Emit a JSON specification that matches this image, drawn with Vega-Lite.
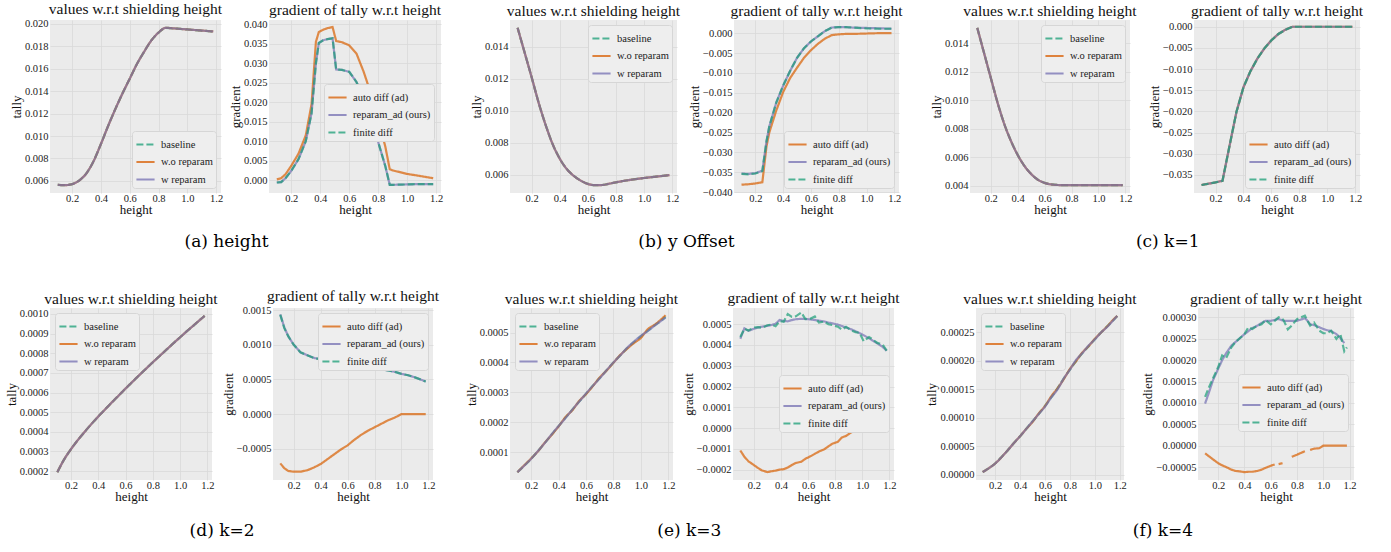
{
"$schema": "https://vega.github.io/schema/vega-lite/v6.json",
"background": "white",
"padding": {"left": 5, "top": 2, "right": 5, "bottom": 5},
"spacing": 38,
"resolve": {"scale": {"color": "independent", "strokeDash": "independent"}, "legend": {"color": "independent", "strokeDash": "independent"}},
"config": {
  "view": {"fill": "#EBEBEB", "stroke": null},
  "axis": {"labelFont": "Liberation Serif", "labelFontSize": 10.5, "labelColor": "#222", "labelOverlap": false, "titleFont": "Liberation Serif", "titleFontSize": 13, "titleFontWeight": "normal", "titleColor": "#111", "gridColor": "#D9D9D9", "gridWidth": 0.8, "domain": false, "ticks": false, "tickSize": 0},
  "axisX": {"labelPadding": 0, "titlePadding": 0},
  "axisY": {"labelPadding": 2, "titlePadding": 1},
  "legend": {"labelFont": "Liberation Serif", "labelFontSize": 10.5, "labelColor": "#222", "symbolType": "stroke", "symbolStrokeWidth": 2, "symbolSize": 330, "symbolOpacity": 0.75, "fillColor": "#EEEEEE", "strokeColor": "#D6D6D6", "cornerRadius": 3, "padding": 3, "rowPadding": 1.5, "offset": 5, "labelOffset": 5},
  "title": {"font": "Liberation Serif", "fontSize": 15.5, "fontWeight": "normal", "color": "#111", "offset": 1},
  "line": {"strokeWidth": 2.2, "opacity": 0.7}
},
"datasets": {
"a1": [
{"x":0.1,"baseline":0.00565,"wo":0.00565,"w":0.00565},
{"x":0.15,"baseline":0.00563,"wo":0.00563,"w":0.00563},
{"x":0.2,"baseline":0.00572,"wo":0.00572,"w":0.00572},
{"x":0.25,"baseline":0.00605,"wo":0.00605,"w":0.00605},
{"x":0.3,"baseline":0.0067,"wo":0.0067,"w":0.0067},
{"x":0.35,"baseline":0.0078,"wo":0.0078,"w":0.0078},
{"x":0.4,"baseline":0.0093,"wo":0.0093,"w":0.0093},
{"x":0.45,"baseline":0.0109,"wo":0.0109,"w":0.0109},
{"x":0.5,"baseline":0.0124,"wo":0.0124,"w":0.0124},
{"x":0.55,"baseline":0.0138,"wo":0.0138,"w":0.0138},
{"x":0.6,"baseline":0.0151,"wo":0.0151,"w":0.0151},
{"x":0.65,"baseline":0.0164,"wo":0.0164,"w":0.0164},
{"x":0.7,"baseline":0.0175,"wo":0.0175,"w":0.0175},
{"x":0.75,"baseline":0.0185,"wo":0.0185,"w":0.0185},
{"x":0.8,"baseline":0.0192,"wo":0.0192,"w":0.0192},
{"x":0.85,"baseline":0.01962,"wo":0.01962,"w":0.01962},
{"x":0.9,"baseline":0.01958,"wo":0.01958,"w":0.01958},
{"x":0.95,"baseline":0.01953,"wo":0.01953,"w":0.01953},
{"x":1.0,"baseline":0.01948,"wo":0.01948,"w":0.01948},
{"x":1.05,"baseline":0.01943,"wo":0.01943,"w":0.01943},
{"x":1.1,"baseline":0.01938,"wo":0.01938,"w":0.01938},
{"x":1.15,"baseline":0.01933,"wo":0.01933,"w":0.01933},
{"x":1.18,"baseline":0.0193,"wo":0.0193,"w":0.0193}
],
"a2": [
{"x":0.1,"ad":0.0002,"ours":-0.0006,"fd":-0.0006},
{"x":0.13,"ad":0.0005,"ours":-0.0005,"fd":-0.0005},
{"x":0.16,"ad":0.0015,"ours":0.0005,"fd":0.0005},
{"x":0.2,"ad":0.0037,"ours":0.0024,"fd":0.0024},
{"x":0.25,"ad":0.0068,"ours":0.0054,"fd":0.0054},
{"x":0.3,"ad":0.0115,"ours":0.01,"fd":0.01},
{"x":0.34,"ad":0.0195,"ours":0.0172,"fd":0.0172},
{"x":0.37,"ad":0.0355,"ours":0.03,"fd":0.03},
{"x":0.39,"ad":0.038,"ours":0.0352,"fd":0.0352},
{"x":0.42,"ad":0.0386,"ours":0.0359,"fd":0.0359},
{"x":0.45,"ad":0.039,"ours":0.0362,"fd":0.0362},
{"x":0.485,"ad":0.0393,"ours":0.0364,"fd":0.0364},
{"x":0.51,"ad":0.0357,"ours":0.0284,"fd":0.0284},
{"x":0.55,"ad":0.0354,"ours":0.0283,"fd":0.0283},
{"x":0.6,"ad":0.0346,"ours":0.0278,"fd":0.0278},
{"x":0.65,"ad":0.0325,"ours":0.0252,"fd":0.0252},
{"x":0.7,"ad":0.0278,"ours":0.0209,"fd":0.0209},
{"x":0.75,"ad":0.0222,"ours":0.0158,"fd":0.0158},
{"x":0.8,"ad":0.0158,"ours":0.0098,"fd":0.0098},
{"x":0.85,"ad":0.0085,"ours":0.0035,"fd":0.0035},
{"x":0.88,"ad":0.0028,"ours":-0.0012,"fd":-0.0012},
{"x":0.9,"ad":0.0025,"ours":-0.0012,"fd":-0.0012},
{"x":1.0,"ad":0.0016,"ours":-0.0011,"fd":-0.0011},
{"x":1.1,"ad":0.001,"ours":-0.001,"fd":-0.001},
{"x":1.18,"ad":0.0005,"ours":-0.001,"fd":-0.001}
],
"b1": [
{"x":0.1,"baseline":0.0152,"wo":0.0152,"w":0.0152},
{"x":0.15,"baseline":0.01365,"wo":0.01365,"w":0.01365},
{"x":0.2,"baseline":0.0121,"wo":0.0121,"w":0.0121},
{"x":0.25,"baseline":0.0105,"wo":0.0105,"w":0.0105},
{"x":0.3,"baseline":0.0091,"wo":0.0091,"w":0.0091},
{"x":0.35,"baseline":0.0079,"wo":0.0079,"w":0.0079},
{"x":0.4,"baseline":0.007,"wo":0.007,"w":0.007},
{"x":0.45,"baseline":0.00635,"wo":0.00635,"w":0.00635},
{"x":0.5,"baseline":0.00592,"wo":0.00592,"w":0.00592},
{"x":0.55,"baseline":0.00562,"wo":0.00562,"w":0.00562},
{"x":0.6,"baseline":0.00542,"wo":0.00542,"w":0.00542},
{"x":0.65,"baseline":0.00534,"wo":0.00534,"w":0.00534},
{"x":0.7,"baseline":0.00535,"wo":0.00535,"w":0.00535},
{"x":0.75,"baseline":0.00543,"wo":0.00543,"w":0.00543},
{"x":0.8,"baseline":0.00552,"wo":0.00552,"w":0.00552},
{"x":0.85,"baseline":0.0056,"wo":0.0056,"w":0.0056},
{"x":0.9,"baseline":0.00567,"wo":0.00567,"w":0.00567},
{"x":0.95,"baseline":0.00573,"wo":0.00573,"w":0.00573},
{"x":1.0,"baseline":0.00579,"wo":0.00579,"w":0.00579},
{"x":1.05,"baseline":0.00584,"wo":0.00584,"w":0.00584},
{"x":1.1,"baseline":0.00589,"wo":0.00589,"w":0.00589},
{"x":1.15,"baseline":0.00594,"wo":0.00594,"w":0.00594},
{"x":1.18,"baseline":0.00597,"wo":0.00597,"w":0.00597}
],
"b2": [
{"x":0.1,"ad":-0.0381,"ours":-0.0353,"fd":-0.0354},
{"x":0.15,"ad":-0.038,"ours":-0.0354,"fd":-0.0355},
{"x":0.2,"ad":-0.0378,"ours":-0.0352,"fd":-0.0353},
{"x":0.25,"ad":-0.0375,"ours":-0.0346,"fd":-0.0347},
{"x":0.28,"ad":-0.0285,"ours":-0.0272,"fd":-0.0272},
{"x":0.3,"ad":-0.025,"ours":-0.0235,"fd":-0.0235},
{"x":0.35,"ad":-0.0195,"ours":-0.0175,"fd":-0.0175},
{"x":0.4,"ad":-0.0148,"ours":-0.0132,"fd":-0.0132},
{"x":0.45,"ad":-0.0113,"ours":-0.0095,"fd":-0.0095},
{"x":0.5,"ad":-0.0087,"ours":-0.0062,"fd":-0.0062},
{"x":0.55,"ad":-0.0062,"ours":-0.0038,"fd":-0.0038},
{"x":0.6,"ad":-0.0043,"ours":-0.0021,"fd":-0.0021},
{"x":0.65,"ad":-0.0027,"ours":-0.0008,"fd":-0.0008},
{"x":0.7,"ad":-0.0014,"ours":0.0005,"fd":0.0005},
{"x":0.75,"ad":-0.0005,"ours":0.0014,"fd":0.0014},
{"x":0.8,"ad":-0.0003,"ours":0.0015,"fd":0.0015},
{"x":0.85,"ad":-0.0002,"ours":0.0015,"fd":0.0015},
{"x":0.9,"ad":-0.0002,"ours":0.0014,"fd":0.0014},
{"x":1.0,"ad":-0.0001,"ours":0.0013,"fd":0.0012},
{"x":1.1,"ad":0.0,"ours":0.0012,"fd":0.0011},
{"x":1.18,"ad":0.0,"ours":0.0011,"fd":0.0011}
],
"c1": [
{"x":0.1,"baseline":0.01507,"wo":0.01507,"w":0.01507},
{"x":0.15,"baseline":0.01332,"wo":0.01332,"w":0.01332},
{"x":0.2,"baseline":0.01158,"wo":0.01158,"w":0.01158},
{"x":0.25,"baseline":0.00985,"wo":0.00985,"w":0.00985},
{"x":0.3,"baseline":0.00835,"wo":0.00835,"w":0.00835},
{"x":0.35,"baseline":0.00715,"wo":0.00715,"w":0.00715},
{"x":0.4,"baseline":0.00617,"wo":0.00617,"w":0.00617},
{"x":0.45,"baseline":0.0054,"wo":0.0054,"w":0.0054},
{"x":0.5,"baseline":0.00483,"wo":0.00483,"w":0.00483},
{"x":0.55,"baseline":0.00443,"wo":0.00443,"w":0.00443},
{"x":0.6,"baseline":0.00421,"wo":0.00421,"w":0.00421},
{"x":0.65,"baseline":0.0041,"wo":0.0041,"w":0.0041},
{"x":0.7,"baseline":0.00406,"wo":0.00406,"w":0.00406},
{"x":0.75,"baseline":0.00405,"wo":0.00405,"w":0.00405},
{"x":0.8,"baseline":0.00405,"wo":0.00405,"w":0.00405},
{"x":0.9,"baseline":0.00405,"wo":0.00405,"w":0.00405},
{"x":1.0,"baseline":0.00405,"wo":0.00405,"w":0.00405},
{"x":1.1,"baseline":0.00405,"wo":0.00405,"w":0.00405},
{"x":1.18,"baseline":0.00405,"wo":0.00405,"w":0.00405}
],
"c2": [
{"x":0.1,"ad":-0.0374,"ours":-0.0374,"fd":-0.0374},
{"x":0.15,"ad":-0.0371,"ours":-0.0371,"fd":-0.0371},
{"x":0.2,"ad":-0.0368,"ours":-0.0368,"fd":-0.0368},
{"x":0.25,"ad":-0.0364,"ours":-0.0364,"fd":-0.0364},
{"x":0.3,"ad":-0.0282,"ours":-0.0282,"fd":-0.0282},
{"x":0.35,"ad":-0.0201,"ours":-0.0201,"fd":-0.0201},
{"x":0.4,"ad":-0.0143,"ours":-0.0143,"fd":-0.0143},
{"x":0.45,"ad":-0.0105,"ours":-0.0105,"fd":-0.0105},
{"x":0.5,"ad":-0.0075,"ours":-0.0075,"fd":-0.0075},
{"x":0.55,"ad":-0.0051,"ours":-0.0051,"fd":-0.0051},
{"x":0.6,"ad":-0.0032,"ours":-0.0032,"fd":-0.0032},
{"x":0.65,"ad":-0.0017,"ours":-0.0017,"fd":-0.0017},
{"x":0.7,"ad":-0.0007,"ours":-0.0007,"fd":-0.0007},
{"x":0.75,"ad":0.0,"ours":0.0,"fd":0.0},
{"x":0.8,"ad":0.0,"ours":0.0,"fd":0.0},
{"x":0.9,"ad":0.0,"ours":0.0,"fd":0.0},
{"x":1.0,"ad":0.0,"ours":0.0,"fd":0.0},
{"x":1.1,"ad":0.0,"ours":0.0,"fd":0.0},
{"x":1.18,"ad":0.0,"ours":0.0,"fd":0.0}
],
"d1": [
{"x":0.1,"baseline":0.000195,"wo":0.000195,"w":0.000195},
{"x":0.15,"baseline":0.00026,"wo":0.00026,"w":0.00026},
{"x":0.2,"baseline":0.000312,"wo":0.000312,"w":0.000312},
{"x":0.25,"baseline":0.000358,"wo":0.000358,"w":0.000358},
{"x":0.3,"baseline":0.0004,"wo":0.0004,"w":0.0004},
{"x":0.35,"baseline":0.00044,"wo":0.00044,"w":0.00044},
{"x":0.4,"baseline":0.000478,"wo":0.000478,"w":0.000478},
{"x":0.45,"baseline":0.000514,"wo":0.000514,"w":0.000514},
{"x":0.5,"baseline":0.00055,"wo":0.00055,"w":0.00055},
{"x":0.55,"baseline":0.000585,"wo":0.000585,"w":0.000585},
{"x":0.6,"baseline":0.00062,"wo":0.00062,"w":0.00062},
{"x":0.65,"baseline":0.000654,"wo":0.000654,"w":0.000654},
{"x":0.7,"baseline":0.000688,"wo":0.000688,"w":0.000688},
{"x":0.75,"baseline":0.000721,"wo":0.000721,"w":0.000721},
{"x":0.8,"baseline":0.000754,"wo":0.000754,"w":0.000754},
{"x":0.85,"baseline":0.000786,"wo":0.000786,"w":0.000786},
{"x":0.9,"baseline":0.000818,"wo":0.000818,"w":0.000818},
{"x":0.95,"baseline":0.00085,"wo":0.00085,"w":0.00085},
{"x":1.0,"baseline":0.000881,"wo":0.000881,"w":0.000881},
{"x":1.05,"baseline":0.000912,"wo":0.000912,"w":0.000912},
{"x":1.1,"baseline":0.000942,"wo":0.000942,"w":0.000942},
{"x":1.15,"baseline":0.000972,"wo":0.000972,"w":0.000972},
{"x":1.18,"baseline":0.00099,"wo":0.00099,"w":0.00099}
],
"d2": [
{"x":0.1,"ad":-0.00071,"ours":0.00144,"fd":0.00143},
{"x":0.13,"ad":-0.00078,"ours":0.00125,"fd":0.00124},
{"x":0.16,"ad":-0.00082,"ours":0.00112,"fd":0.00112},
{"x":0.2,"ad":-0.00083,"ours":0.001,"fd":0.001},
{"x":0.25,"ad":-0.00083,"ours":0.00089,"fd":0.00089},
{"x":0.3,"ad":-0.00081,"ours":0.00085,"fd":0.00085},
{"x":0.35,"ad":-0.00077,"ours":0.00081,"fd":0.00081},
{"x":0.4,"ad":-0.00072,"ours":0.00079,"fd":0.00079},
{"x":0.45,"ad":-0.00065,"ours":0.00077,"fd":0.00077},
{"x":0.5,"ad":-0.00058,"ours":0.00075,"fd":0.00075},
{"x":0.55,"ad":-0.00051,"ours":0.00074,"fd":0.00074},
{"x":0.6,"ad":-0.00045,"ours":0.00072,"fd":0.00072},
{"x":0.65,"ad":-0.00037,"ours":0.00072,"fd":0.00072},
{"x":0.7,"ad":-0.0003,"ours":0.0007,"fd":0.0007},
{"x":0.75,"ad":-0.00024,"ours":0.00068,"fd":0.00068},
{"x":0.8,"ad":-0.00019,"ours":0.00067,"fd":0.00067},
{"x":0.85,"ad":-0.00014,"ours":0.00065,"fd":0.00065},
{"x":0.9,"ad":-0.00009,"ours":0.00063,"fd":0.00063},
{"x":0.95,"ad":-0.00005,"ours":0.00061,"fd":0.00061},
{"x":1.0,"ad":0.0,"ours":0.00058,"fd":0.00058},
{"x":1.05,"ad":0.0,"ours":0.00056,"fd":0.00056},
{"x":1.1,"ad":0.0,"ours":0.00053,"fd":0.00053},
{"x":1.18,"ad":0.0,"ours":0.00047,"fd":0.00047}
],
"e1": [
{"x":0.1,"baseline":0.000033,"wo":0.000033,"w":0.000033},
{"x":0.15,"baseline":0.000055,"wo":0.000056,"w":0.000055},
{"x":0.2,"baseline":0.000078,"wo":0.000079,"w":0.000078},
{"x":0.25,"baseline":0.000104,"wo":0.000103,"w":0.000104},
{"x":0.3,"baseline":0.000131,"wo":0.000132,"w":0.000131},
{"x":0.35,"baseline":0.000159,"wo":0.000158,"w":0.00016},
{"x":0.4,"baseline":0.000187,"wo":0.000186,"w":0.000187},
{"x":0.45,"baseline":0.000215,"wo":0.000217,"w":0.000214},
{"x":0.5,"baseline":0.000242,"wo":0.00024,"w":0.000242},
{"x":0.55,"baseline":0.000269,"wo":0.000271,"w":0.000269},
{"x":0.6,"baseline":0.000295,"wo":0.000294,"w":0.000296},
{"x":0.65,"baseline":0.000322,"wo":0.000321,"w":0.000322},
{"x":0.7,"baseline":0.000348,"wo":0.00035,"w":0.000347},
{"x":0.75,"baseline":0.000374,"wo":0.000373,"w":0.000374},
{"x":0.8,"baseline":0.0004,"wo":0.000399,"w":0.0004},
{"x":0.85,"baseline":0.000424,"wo":0.000425,"w":0.000424},
{"x":0.9,"baseline":0.000448,"wo":0.000446,"w":0.000449},
{"x":0.95,"baseline":0.000468,"wo":0.000465,"w":0.00047},
{"x":1.0,"baseline":0.000487,"wo":0.000482,"w":0.000489},
{"x":1.05,"baseline":0.000506,"wo":0.000511,"w":0.000505},
{"x":1.1,"baseline":0.000524,"wo":0.000526,"w":0.000523},
{"x":1.15,"baseline":0.000541,"wo":0.000545,"w":0.00054},
{"x":1.18,"baseline":0.000552,"wo":0.000558,"w":0.00055}
],
"e2": [
{"x":0.1,"ad":-0.000108,"ours":0.00043,"fd":0.000438},
{"x":0.13,"ad":-0.000138,"ours":0.00048,"fd":0.000478},
{"x":0.16,"ad":-0.00016,"ours":0.000468,"fd":0.00047},
{"x":0.2,"ad":-0.000178,"ours":0.000478,"fd":0.000484},
{"x":0.23,"ad":-0.000192,"ours":0.000484,"fd":0.000486},
{"x":0.26,"ad":-0.000204,"ours":0.000488,"fd":0.000483},
{"x":0.3,"ad":-0.000212,"ours":0.000492,"fd":0.000495},
{"x":0.33,"ad":-0.000208,"ours":0.000496,"fd":0.000498},
{"x":0.36,"ad":-0.000205,"ours":0.000502,"fd":0.00049},
{"x":0.39,"ad":-0.0002,"ours":0.00052,"fd":0.000515},
{"x":0.42,"ad":-0.000198,"ours":0.000515,"fd":0.000512},
{"x":0.45,"ad":-0.00019,"ours":0.000514,"fd":0.000549},
{"x":0.48,"ad":-0.000178,"ours":0.00052,"fd":0.000535},
{"x":0.51,"ad":-0.000168,"ours":0.000524,"fd":0.000538},
{"x":0.55,"ad":-0.000162,"ours":0.000526,"fd":0.000557},
{"x":0.58,"ad":-0.000148,"ours":0.000525,"fd":0.000525},
{"x":0.62,"ad":-0.000135,"ours":0.000523,"fd":0.000527},
{"x":0.65,"ad":-0.000124,"ours":0.00052,"fd":0.000537},
{"x":0.68,"ad":-0.000113,"ours":0.000517,"fd":0.000508},
{"x":0.72,"ad":-0.000102,"ours":0.000513,"fd":0.000513},
{"x":0.75,"ad":-0.000088,"ours":0.000508,"fd":0.0005},
{"x":0.78,"ad":-0.000075,"ours":0.000504,"fd":0.000496},
{"x":0.82,"ad":-0.000066,"ours":0.000498,"fd":0.000488},
{"x":0.85,"ad":-0.000045,"ours":0.000491,"fd":0.000474},
{"x":0.88,"ad":-0.000038,"ours":0.000484,"fd":0.000487},
{"x":0.92,"ad":-0.00002,"ours":0.000475,"fd":0.00047},
{"x":0.95,"ad":-0.000008,"ours":0.000466,"fd":0.000462},
{"x":0.98,"ad":-0.000002,"ours":0.000457,"fd":0.000458},
{"x":1.01,"ad":0.0,"ours":0.000447,"fd":0.000418},
{"x":1.05,"ad":0.0,"ours":0.000432,"fd":0.000438},
{"x":1.08,"ad":0.0,"ours":0.00042,"fd":0.000425},
{"x":1.11,"ad":0.0,"ours":0.000408,"fd":0.00041},
{"x":1.15,"ad":0.0,"ours":0.000391,"fd":0.000402},
{"x":1.18,"ad":0.0,"ours":0.000372,"fd":0.000373}
],
"f1": [
{"x":0.1,"baseline":0.000005,"wo":0.000005,"w":0.000005},
{"x":0.15,"baseline":0.000012,"wo":0.000012,"w":0.000012},
{"x":0.2,"baseline":0.00002,"wo":0.00002,"w":0.00002},
{"x":0.25,"baseline":0.000031,"wo":0.000031,"w":0.000031},
{"x":0.3,"baseline":0.000043,"wo":0.000043,"w":0.000043},
{"x":0.35,"baseline":0.000056,"wo":0.000056,"w":0.000056},
{"x":0.4,"baseline":0.000068,"wo":0.000068,"w":0.000068},
{"x":0.45,"baseline":0.000081,"wo":0.000081,"w":0.000081},
{"x":0.5,"baseline":0.000094,"wo":0.000093,"w":0.000094},
{"x":0.55,"baseline":0.000107,"wo":0.000108,"w":0.000107},
{"x":0.6,"baseline":0.000121,"wo":0.000121,"w":0.00012},
{"x":0.65,"baseline":0.000136,"wo":0.000138,"w":0.000136},
{"x":0.7,"baseline":0.000152,"wo":0.000152,"w":0.00015},
{"x":0.75,"baseline":0.000169,"wo":0.000168,"w":0.000169},
{"x":0.8,"baseline":0.000185,"wo":0.000186,"w":0.000185},
{"x":0.85,"baseline":0.0002,"wo":0.0002,"w":0.000202},
{"x":0.9,"baseline":0.000214,"wo":0.000215,"w":0.000214},
{"x":0.95,"baseline":0.000226,"wo":0.000226,"w":0.000227},
{"x":1.0,"baseline":0.000238,"wo":0.000239,"w":0.000238},
{"x":1.05,"baseline":0.00025,"wo":0.00025,"w":0.00025},
{"x":1.1,"baseline":0.000261,"wo":0.000261,"w":0.00026},
{"x":1.15,"baseline":0.000272,"wo":0.000273,"w":0.000272},
{"x":1.18,"baseline":0.000279,"wo":0.000279,"w":0.000279}
],
"f2": [
{"x":0.1,"ad":-0.000018,"ours":0.0000985,"fd":0.000114},
{"x":0.13,"ad":-0.000025,"ours":0.000125,"fd":0.000137},
{"x":0.16,"ad":-0.000032,"ours":0.000153,"fd":0.000157},
{"x":0.2,"ad":-0.000041,"ours":0.00018,"fd":0.000184},
{"x":0.23,"ad":-0.000046,"ours":0.0002,"fd":0.000211},
{"x":0.26,"ad":-0.00005,"ours":0.000216,"fd":0.000205},
{"x":0.3,"ad":-0.000056,"ours":0.000234,"fd":0.00023},
{"x":0.33,"ad":-0.000059,"ours":0.000242,"fd":0.000242},
{"x":0.36,"ad":-0.00006,"ours":0.00025,"fd":0.00025},
{"x":0.4,"ad":-0.000062,"ours":0.000261,"fd":0.000261},
{"x":0.43,"ad":-0.000061,"ours":0.000268,"fd":0.000277},
{"x":0.46,"ad":-0.000061,"ours":0.000275,"fd":0.000273},
{"x":0.5,"ad":-0.000059,"ours":0.000281,"fd":0.000281},
{"x":0.53,"ad":-0.000056,"ours":0.000287,"fd":0.000284},
{"x":0.56,"ad":-0.000052,"ours":0.000292,"fd":0.000294},
{"x":0.6,"ad":-0.000047,"ours":0.000292,"fd":0.000284},
{"x":0.63,"ad":-0.000044,"ours":0.000294,"fd":0.000292},
{"x":0.645,"ad":null,"ours":0.000296,"fd":0.000296},
{"x":0.66,"ad":-0.000043,"ours":0.000296,"fd":0.0003},
{"x":0.69,"ad":-0.000041,"ours":0.000293,"fd":0.000296},
{"x":0.7,"ad":null,"ours":0.000292,"fd":0.000292},
{"x":0.73,"ad":null,"ours":0.000292,"fd":0.000272},
{"x":0.76,"ad":-0.000026,"ours":0.000292,"fd":0.000281},
{"x":0.8,"ad":-0.000021,"ours":0.000292,"fd":0.000296},
{"x":0.83,"ad":-0.000017,"ours":0.000295,"fd":0.0003},
{"x":0.86,"ad":-0.000013,"ours":0.000298,"fd":0.000304},
{"x":0.875,"ad":null,"ours":0.000294,"fd":0.000295},
{"x":0.9,"ad":-0.00001,"ours":0.000284,"fd":0.000281},
{"x":0.93,"ad":-0.000007,"ours":0.000282,"fd":0.000288},
{"x":0.97,"ad":-0.000006,"ours":0.000277,"fd":0.000269},
{"x":1.0,"ad":0.0,"ours":0.000273,"fd":0.000263},
{"x":1.03,"ad":0.0,"ours":0.00027,"fd":0.000263},
{"x":1.06,"ad":0.0,"ours":0.000268,"fd":0.000269},
{"x":1.1,"ad":0.0,"ours":0.000261,"fd":0.00025},
{"x":1.13,"ad":0.0,"ours":0.000252,"fd":0.000261},
{"x":1.16,"ad":0.0,"ours":0.00024,"fd":0.000221},
{"x":1.18,"ad":0.0,"ours":null,"fd":0.00023}
]
},
"vconcat": [
{
"hconcat": [
{
"hconcat": [
{"width": 171, "height": 173, "title": "values w.r.t shielding height", "data": {"name": "a1"},
 "encoding": {"x": {"field": "x", "type": "quantitative", "scale": {"domain": [0.046, 1.234], "nice": false, "zero": false}, "axis": {"values": [0.2, 0.4, 0.6, 0.8, 1.0, 1.2], "format": ".1f", "title": "height", "tickCount": 20}}},
 "layer": [
  {"mark": {"type": "line", "interpolate": "monotone"}, "encoding": {"y": {"field": "baseline", "type": "quantitative", "scale": {"domain": [0.00493, 0.02032], "nice": false, "zero": false}, "axis": {"values": [0.006, 0.008, 0.01, 0.012, 0.014, 0.016, 0.018, 0.02], "format": ".3f", "title": "tally", "tickCount": 20}},
    "color": {"datum": "baseline", "type": "nominal", "scale": {"domain": ["baseline", "w.o reparam", "w reparam"], "range": ["#1B9E77", "#D95F02", "#7570B3"]}, "legend": {"title": null, "orient": "bottom-right"}},
    "strokeDash": {"datum": "baseline", "type": "nominal", "scale": {"domain": ["baseline", "w.o reparam", "w reparam"], "range": [[7, 3], [1, 0], [1, 0]]}, "legend": {"title": null, "orient": "bottom-right"}}}},
  {"mark": {"type": "line", "interpolate": "monotone"}, "encoding": {"y": {"field": "wo", "type": "quantitative"}, "color": {"datum": "w.o reparam", "type": "nominal"}, "strokeDash": {"datum": "w.o reparam", "type": "nominal"}}},
  {"mark": {"type": "line", "interpolate": "monotone"}, "encoding": {"y": {"field": "w", "type": "quantitative"}, "color": {"datum": "w reparam", "type": "nominal"}, "strokeDash": {"datum": "w reparam", "type": "nominal"}}}
 ]},
{"width": 172, "height": 173, "title": "gradient of tally w.r.t height", "data": {"name": "a2"},
 "encoding": {"x": {"field": "x", "type": "quantitative", "scale": {"domain": [0.046, 1.234], "nice": false, "zero": false}, "axis": {"values": [0.2, 0.4, 0.6, 0.8, 1.0, 1.2], "format": ".1f", "title": "height", "tickCount": 20}}},
 "layer": [
  {"mark": {"type": "line"}, "encoding": {"y": {"field": "ad", "type": "quantitative", "scale": {"domain": [-0.0033, 0.0411], "nice": false, "zero": false}, "axis": {"values": [0.0, 0.005, 0.01, 0.015, 0.02, 0.025, 0.03, 0.035, 0.04], "format": ".3f", "title": "gradient", "tickCount": 20}},
    "color": {"datum": "auto diff (ad)", "type": "nominal", "scale": {"domain": ["auto diff (ad)", "reparam_ad (ours)", "finite diff"], "range": ["#D95F02", "#7570B3", "#1B9E77"]}, "legend": {"title": null, "orient": "none", "legendX": 55, "legendY": 64}},
    "strokeDash": {"datum": "auto diff (ad)", "type": "nominal", "scale": {"domain": ["auto diff (ad)", "reparam_ad (ours)", "finite diff"], "range": [[1, 0], [1, 0], [7, 3]]}, "legend": {"title": null, "orient": "none", "legendX": 55, "legendY": 64}}}},
  {"mark": {"type": "line"}, "encoding": {"y": {"field": "ours", "type": "quantitative"}, "color": {"datum": "reparam_ad (ours)", "type": "nominal"}, "strokeDash": {"datum": "reparam_ad (ours)", "type": "nominal"}}},
  {"mark": {"type": "line"}, "encoding": {"y": {"field": "fd", "type": "quantitative"}, "color": {"datum": "finite diff", "type": "nominal"}, "strokeDash": {"datum": "finite diff", "type": "nominal"}}}
 ]}
],
"spacing": 48, "bounds": "flush",
"resolve": {"scale": {"color": "independent", "strokeDash": "independent"}, "legend": {"color": "independent", "strokeDash": "independent"}},
"title": {"text": "(a) height", "orient": "bottom", "anchor": "middle", "font": "DejaVu Serif", "fontSize": 17, "fontWeight": "normal", "color": "#000", "offset": 17}
},
{
"hconcat": [
{"width": 167, "height": 173, "title": "values w.r.t shielding height", "data": {"name": "b1"},
 "encoding": {"x": {"field": "x", "type": "quantitative", "scale": {"domain": [0.046, 1.234], "nice": false, "zero": false}, "axis": {"values": [0.2, 0.4, 0.6, 0.8, 1.0, 1.2], "format": ".1f", "title": "height", "tickCount": 20}}},
 "layer": [
  {"mark": {"type": "line", "interpolate": "monotone"}, "encoding": {"y": {"field": "baseline", "type": "quantitative", "scale": {"domain": [0.00485, 0.01569], "nice": false, "zero": false}, "axis": {"values": [0.006, 0.008, 0.01, 0.012, 0.014], "format": ".3f", "title": "tally", "tickCount": 20}},
    "color": {"datum": "baseline", "type": "nominal", "scale": {"domain": ["baseline", "w.o reparam", "w reparam"], "range": ["#1B9E77", "#D95F02", "#7570B3"]}, "legend": {"title": null, "orient": "top-right"}},
    "strokeDash": {"datum": "baseline", "type": "nominal", "scale": {"domain": ["baseline", "w.o reparam", "w reparam"], "range": [[7, 3], [1, 0], [1, 0]]}, "legend": {"title": null, "orient": "top-right"}}}},
  {"mark": {"type": "line", "interpolate": "monotone"}, "encoding": {"y": {"field": "wo", "type": "quantitative"}, "color": {"datum": "w.o reparam", "type": "nominal"}, "strokeDash": {"datum": "w.o reparam", "type": "nominal"}}},
  {"mark": {"type": "line", "interpolate": "monotone"}, "encoding": {"y": {"field": "w", "type": "quantitative"}, "color": {"datum": "w reparam", "type": "nominal"}, "strokeDash": {"datum": "w reparam", "type": "nominal"}}}
 ]},
{"width": 165, "height": 173, "title": "gradient of tally w.r.t height", "data": {"name": "b2"},
 "encoding": {"x": {"field": "x", "type": "quantitative", "scale": {"domain": [0.046, 1.234], "nice": false, "zero": false}, "axis": {"values": [0.2, 0.4, 0.6, 0.8, 1.0, 1.2], "format": ".1f", "title": "height", "tickCount": 20}}},
 "layer": [
  {"mark": {"type": "line"}, "encoding": {"y": {"field": "ad", "type": "quantitative", "scale": {"domain": [-0.0402, 0.0033], "nice": false, "zero": false}, "axis": {"values": [-0.04, -0.035, -0.03, -0.025, -0.02, -0.015, -0.01, -0.005, 0.0], "format": ".3f", "title": "gradient", "tickCount": 20}},
    "color": {"datum": "auto diff (ad)", "type": "nominal", "scale": {"domain": ["auto diff (ad)", "reparam_ad (ours)", "finite diff"], "range": ["#D95F02", "#7570B3", "#1B9E77"]}, "legend": {"title": null, "orient": "bottom-right"}},
    "strokeDash": {"datum": "auto diff (ad)", "type": "nominal", "scale": {"domain": ["auto diff (ad)", "reparam_ad (ours)", "finite diff"], "range": [[1, 0], [1, 0], [7, 3]]}, "legend": {"title": null, "orient": "bottom-right"}}}},
  {"mark": {"type": "line"}, "encoding": {"y": {"field": "ours", "type": "quantitative"}, "color": {"datum": "reparam_ad (ours)", "type": "nominal"}, "strokeDash": {"datum": "reparam_ad (ours)", "type": "nominal"}}},
  {"mark": {"type": "line"}, "encoding": {"y": {"field": "fd", "type": "quantitative"}, "color": {"datum": "finite diff", "type": "nominal"}, "strokeDash": {"datum": "finite diff", "type": "nominal"}}}
 ]}
],
"spacing": 57, "bounds": "flush",
"resolve": {"scale": {"color": "independent", "strokeDash": "independent"}, "legend": {"color": "independent", "strokeDash": "independent"}},
"title": {"text": "(b) y Offset", "orient": "bottom", "anchor": "middle", "font": "DejaVu Serif", "fontSize": 17, "fontWeight": "normal", "color": "#000", "offset": 17}
},
{
"hconcat": [
{"width": 160, "height": 173, "title": "values w.r.t shielding height", "data": {"name": "c1"},
 "encoding": {"x": {"field": "x", "type": "quantitative", "scale": {"domain": [0.046, 1.234], "nice": false, "zero": false}, "axis": {"values": [0.2, 0.4, 0.6, 0.8, 1.0, 1.2], "format": ".1f", "title": "height", "tickCount": 20}}},
 "layer": [
  {"mark": {"type": "line", "interpolate": "monotone"}, "encoding": {"y": {"field": "baseline", "type": "quantitative", "scale": {"domain": [0.0035, 0.01562], "nice": false, "zero": false}, "axis": {"values": [0.004, 0.006, 0.008, 0.01, 0.012, 0.014], "format": ".3f", "title": "tally", "tickCount": 20}},
    "color": {"datum": "baseline", "type": "nominal", "scale": {"domain": ["baseline", "w.o reparam", "w reparam"], "range": ["#1B9E77", "#D95F02", "#7570B3"]}, "legend": {"title": null, "orient": "top-right"}},
    "strokeDash": {"datum": "baseline", "type": "nominal", "scale": {"domain": ["baseline", "w.o reparam", "w reparam"], "range": [[7, 3], [1, 0], [1, 0]]}, "legend": {"title": null, "orient": "top-right"}}}},
  {"mark": {"type": "line", "interpolate": "monotone"}, "encoding": {"y": {"field": "wo", "type": "quantitative"}, "color": {"datum": "w.o reparam", "type": "nominal"}, "strokeDash": {"datum": "w.o reparam", "type": "nominal"}}},
  {"mark": {"type": "line", "interpolate": "monotone"}, "encoding": {"y": {"field": "w", "type": "quantitative"}, "color": {"datum": "w reparam", "type": "nominal"}, "strokeDash": {"datum": "w reparam", "type": "nominal"}}}
 ]},
{"width": 166, "height": 173, "title": "gradient of tally w.r.t height", "data": {"name": "c2"},
 "encoding": {"x": {"field": "x", "type": "quantitative", "scale": {"domain": [0.046, 1.234], "nice": false, "zero": false}, "axis": {"values": [0.2, 0.4, 0.6, 0.8, 1.0, 1.2], "format": ".1f", "title": "height", "tickCount": 20}}},
 "layer": [
  {"mark": {"type": "line"}, "encoding": {"y": {"field": "ad", "type": "quantitative", "scale": {"domain": [-0.0393, 0.0016], "nice": false, "zero": false}, "axis": {"values": [-0.035, -0.03, -0.025, -0.02, -0.015, -0.01, -0.005, 0.0], "format": ".3f", "title": "gradient", "tickCount": 20}},
    "color": {"datum": "auto diff (ad)", "type": "nominal", "scale": {"domain": ["auto diff (ad)", "reparam_ad (ours)", "finite diff"], "range": ["#D95F02", "#7570B3", "#1B9E77"]}, "legend": {"title": null, "orient": "bottom-right"}},
    "strokeDash": {"datum": "auto diff (ad)", "type": "nominal", "scale": {"domain": ["auto diff (ad)", "reparam_ad (ours)", "finite diff"], "range": [[1, 0], [1, 0], [7, 3]]}, "legend": {"title": null, "orient": "bottom-right"}}}},
  {"mark": {"type": "line"}, "encoding": {"y": {"field": "ours", "type": "quantitative"}, "color": {"datum": "reparam_ad (ours)", "type": "nominal"}, "strokeDash": {"datum": "reparam_ad (ours)", "type": "nominal"}}},
  {"mark": {"type": "line"}, "encoding": {"y": {"field": "fd", "type": "quantitative"}, "color": {"datum": "finite diff", "type": "nominal"}, "strokeDash": {"datum": "finite diff", "type": "nominal"}}}
 ]}
],
"spacing": 64, "bounds": "flush",
"resolve": {"scale": {"color": "independent", "strokeDash": "independent"}, "legend": {"color": "independent", "strokeDash": "independent"}},
"title": {"text": "(c) k=1", "orient": "bottom", "anchor": "middle", "font": "DejaVu Serif", "fontSize": 17, "fontWeight": "normal", "color": "#000", "offset": 17, "dx": 21}
}
],
"spacing": 27,
"resolve": {"scale": {"color": "independent", "strokeDash": "independent"}, "legend": {"color": "independent", "strokeDash": "independent"}}
},
{
"hconcat": [
{
"hconcat": [
{"width": 162, "height": 172, "title": "values w.r.t shielding height", "data": {"name": "d1"},
 "encoding": {"x": {"field": "x", "type": "quantitative", "scale": {"domain": [0.046, 1.234], "nice": false, "zero": false}, "axis": {"values": [0.2, 0.4, 0.6, 0.8, 1.0, 1.2], "format": ".1f", "title": "height", "tickCount": 20}}},
 "layer": [
  {"mark": {"type": "line", "interpolate": "monotone"}, "encoding": {"y": {"field": "baseline", "type": "quantitative", "scale": {"domain": [0.000155, 0.00103], "nice": false, "zero": false}, "axis": {"values": [0.0002, 0.0003, 0.0004, 0.0005, 0.0006, 0.0007, 0.0008, 0.0009, 0.001], "format": ".4f", "title": "tally", "tickCount": 20}},
    "color": {"datum": "baseline", "type": "nominal", "scale": {"domain": ["baseline", "w.o reparam", "w reparam"], "range": ["#1B9E77", "#D95F02", "#7570B3"]}, "legend": {"title": null, "orient": "top-left"}},
    "strokeDash": {"datum": "baseline", "type": "nominal", "scale": {"domain": ["baseline", "w.o reparam", "w reparam"], "range": [[7, 3], [1, 0], [1, 0]]}, "legend": {"title": null, "orient": "top-left"}}}},
  {"mark": {"type": "line", "interpolate": "monotone"}, "encoding": {"y": {"field": "wo", "type": "quantitative"}, "color": {"datum": "w.o reparam", "type": "nominal"}, "strokeDash": {"datum": "w.o reparam", "type": "nominal"}}},
  {"mark": {"type": "line", "interpolate": "monotone"}, "encoding": {"y": {"field": "w", "type": "quantitative"}, "color": {"datum": "w reparam", "type": "nominal"}, "strokeDash": {"datum": "w reparam", "type": "nominal"}}}
 ]},
{"width": 160, "height": 172, "title": "gradient of tally w.r.t height", "data": {"name": "d2"},
 "encoding": {"x": {"field": "x", "type": "quantitative", "scale": {"domain": [0.046, 1.234], "nice": false, "zero": false}, "axis": {"values": [0.2, 0.4, 0.6, 0.8, 1.0, 1.2], "format": ".1f", "title": "height", "tickCount": 20}}},
 "layer": [
  {"mark": {"type": "line"}, "encoding": {"y": {"field": "ad", "type": "quantitative", "scale": {"domain": [-0.00095, 0.00153], "nice": false, "zero": false}, "axis": {"values": [-0.0005, 0.0, 0.0005, 0.001, 0.0015], "format": ".4f", "title": "gradient", "tickCount": 20}},
    "color": {"datum": "auto diff (ad)", "type": "nominal", "scale": {"domain": ["auto diff (ad)", "reparam_ad (ours)", "finite diff"], "range": ["#D95F02", "#7570B3", "#1B9E77"]}, "legend": {"title": null, "orient": "top-right"}},
    "strokeDash": {"datum": "auto diff (ad)", "type": "nominal", "scale": {"domain": ["auto diff (ad)", "reparam_ad (ours)", "finite diff"], "range": [[1, 0], [1, 0], [7, 3]]}, "legend": {"title": null, "orient": "top-right"}}}},
  {"mark": {"type": "line"}, "encoding": {"y": {"field": "ours", "type": "quantitative"}, "color": {"datum": "reparam_ad (ours)", "type": "nominal"}, "strokeDash": {"datum": "reparam_ad (ours)", "type": "nominal"}}},
  {"mark": {"type": "line"}, "encoding": {"y": {"field": "fd", "type": "quantitative"}, "color": {"datum": "finite diff", "type": "nominal"}, "strokeDash": {"datum": "finite diff", "type": "nominal"}}}
 ]}
],
"spacing": 61, "bounds": "flush",
"resolve": {"scale": {"color": "independent", "strokeDash": "independent"}, "legend": {"color": "independent", "strokeDash": "independent"}},
"title": {"text": "(d) k=2", "orient": "bottom", "anchor": "middle", "font": "DejaVu Serif", "fontSize": 17, "fontWeight": "normal", "color": "#000", "offset": 19}
},
{
"hconcat": [
{"width": 163, "height": 172, "title": "values w.r.t shielding height", "data": {"name": "e1"},
 "encoding": {"x": {"field": "x", "type": "quantitative", "scale": {"domain": [0.046, 1.234], "nice": false, "zero": false}, "axis": {"values": [0.2, 0.4, 0.6, 0.8, 1.0, 1.2], "format": ".1f", "title": "height", "tickCount": 20}}},
 "layer": [
  {"mark": {"type": "line", "interpolate": "monotone"}, "encoding": {"y": {"field": "baseline", "type": "quantitative", "scale": {"domain": [0.000007, 0.000582], "nice": false, "zero": false}, "axis": {"values": [0.0001, 0.0002, 0.0003, 0.0004, 0.0005], "format": ".4f", "title": "tally", "tickCount": 20}},
    "color": {"datum": "baseline", "type": "nominal", "scale": {"domain": ["baseline", "w.o reparam", "w reparam"], "range": ["#1B9E77", "#D95F02", "#7570B3"]}, "legend": {"title": null, "orient": "top-left"}},
    "strokeDash": {"datum": "baseline", "type": "nominal", "scale": {"domain": ["baseline", "w.o reparam", "w reparam"], "range": [[7, 3], [1, 0], [1, 0]]}, "legend": {"title": null, "orient": "top-left"}}}},
  {"mark": {"type": "line", "interpolate": "monotone"}, "encoding": {"y": {"field": "wo", "type": "quantitative"}, "color": {"datum": "w.o reparam", "type": "nominal"}, "strokeDash": {"datum": "w.o reparam", "type": "nominal"}}},
  {"mark": {"type": "line", "interpolate": "monotone"}, "encoding": {"y": {"field": "w", "type": "quantitative"}, "color": {"datum": "w reparam", "type": "nominal"}, "strokeDash": {"datum": "w reparam", "type": "nominal"}}}
 ]},
{"width": 161, "height": 172, "title": "gradient of tally w.r.t height", "data": {"name": "e2"},
 "encoding": {"x": {"field": "x", "type": "quantitative", "scale": {"domain": [0.046, 1.234], "nice": false, "zero": false}, "axis": {"values": [0.2, 0.4, 0.6, 0.8, 1.0, 1.2], "format": ".1f", "title": "height", "tickCount": 20}}},
 "layer": [
  {"mark": {"type": "line"}, "encoding": {"y": {"field": "ad", "type": "quantitative", "scale": {"domain": [-0.00025, 0.000578], "nice": false, "zero": false}, "axis": {"values": [-0.0002, -0.0001, 0.0, 0.0001, 0.0002, 0.0003, 0.0004, 0.0005], "format": ".4f", "title": "gradient", "tickCount": 20}},
    "color": {"datum": "auto diff (ad)", "type": "nominal", "scale": {"domain": ["auto diff (ad)", "reparam_ad (ours)", "finite diff"], "range": ["#D95F02", "#7570B3", "#1B9E77"]}, "legend": {"title": null, "orient": "none", "legendX": 46, "legendY": 67}},
    "strokeDash": {"datum": "auto diff (ad)", "type": "nominal", "scale": {"domain": ["auto diff (ad)", "reparam_ad (ours)", "finite diff"], "range": [[1, 0], [1, 0], [7, 3]]}, "legend": {"title": null, "orient": "none", "legendX": 46, "legendY": 67}}}},
  {"mark": {"type": "line"}, "encoding": {"y": {"field": "ours", "type": "quantitative"}, "color": {"datum": "reparam_ad (ours)", "type": "nominal"}, "strokeDash": {"datum": "reparam_ad (ours)", "type": "nominal"}}},
  {"mark": {"type": "line"}, "encoding": {"y": {"field": "fd", "type": "quantitative"}, "color": {"datum": "finite diff", "type": "nominal"}, "strokeDash": {"datum": "finite diff", "type": "nominal"}}}
 ]}
],
"spacing": 60, "bounds": "flush",
"resolve": {"scale": {"color": "independent", "strokeDash": "independent"}, "legend": {"color": "independent", "strokeDash": "independent"}},
"title": {"text": "(e) k=3", "orient": "bottom", "anchor": "middle", "font": "DejaVu Serif", "fontSize": 17, "fontWeight": "normal", "color": "#000", "offset": 19, "dx": 7}
},
{
"hconcat": [
{"width": 148, "height": 172, "title": "values w.r.t shielding height", "data": {"name": "f1"},
 "encoding": {"x": {"field": "x", "type": "quantitative", "scale": {"domain": [0.046, 1.234], "nice": false, "zero": false}, "axis": {"values": [0.2, 0.4, 0.6, 0.8, 1.0, 1.2], "format": ".1f", "title": "height", "tickCount": 20}}},
 "layer": [
  {"mark": {"type": "line", "interpolate": "monotone"}, "encoding": {"y": {"field": "baseline", "type": "quantitative", "scale": {"domain": [-0.0000089, 0.000293], "nice": false, "zero": false}, "axis": {"values": [0.0, 0.00005, 0.0001, 0.00015, 0.0002, 0.00025], "format": ".5f", "title": "tally", "tickCount": 20}},
    "color": {"datum": "baseline", "type": "nominal", "scale": {"domain": ["baseline", "w.o reparam", "w reparam"], "range": ["#1B9E77", "#D95F02", "#7570B3"]}, "legend": {"title": null, "orient": "top-left"}},
    "strokeDash": {"datum": "baseline", "type": "nominal", "scale": {"domain": ["baseline", "w.o reparam", "w reparam"], "range": [[7, 3], [1, 0], [1, 0]]}, "legend": {"title": null, "orient": "top-left"}}}},
  {"mark": {"type": "line", "interpolate": "monotone"}, "encoding": {"y": {"field": "wo", "type": "quantitative"}, "color": {"datum": "w.o reparam", "type": "nominal"}, "strokeDash": {"datum": "w.o reparam", "type": "nominal"}}},
  {"mark": {"type": "line", "interpolate": "monotone"}, "encoding": {"y": {"field": "w", "type": "quantitative"}, "color": {"datum": "w reparam", "type": "nominal"}, "strokeDash": {"datum": "w reparam", "type": "nominal"}}}
 ]},
{"width": 156, "height": 172, "title": "gradient of tally w.r.t height", "data": {"name": "f2"},
 "encoding": {"x": {"field": "x", "type": "quantitative", "scale": {"domain": [0.046, 1.234], "nice": false, "zero": false}, "axis": {"values": [0.2, 0.4, 0.6, 0.8, 1.0, 1.2], "format": ".1f", "title": "height", "tickCount": 20}}},
 "layer": [
  {"mark": {"type": "line"}, "encoding": {"y": {"field": "ad", "type": "quantitative", "scale": {"domain": [-0.0000803, 0.000322], "nice": false, "zero": false}, "axis": {"values": [-0.00005, 0.0, 0.00005, 0.0001, 0.00015, 0.0002, 0.00025, 0.0003], "format": ".5f", "title": "gradient", "tickCount": 20}},
    "color": {"datum": "auto diff (ad)", "type": "nominal", "scale": {"domain": ["auto diff (ad)", "reparam_ad (ours)", "finite diff"], "range": ["#D95F02", "#7570B3", "#1B9E77"]}, "legend": {"title": null, "orient": "none", "legendX": 40, "legendY": 66}},
    "strokeDash": {"datum": "auto diff (ad)", "type": "nominal", "scale": {"domain": ["auto diff (ad)", "reparam_ad (ours)", "finite diff"], "range": [[1, 0], [1, 0], [7, 3]]}, "legend": {"title": null, "orient": "none", "legendX": 40, "legendY": 66}}}},
  {"mark": {"type": "line"}, "encoding": {"y": {"field": "ours", "type": "quantitative"}, "color": {"datum": "reparam_ad (ours)", "type": "nominal"}, "strokeDash": {"datum": "reparam_ad (ours)", "type": "nominal"}}},
  {"mark": {"type": "line"}, "encoding": {"y": {"field": "fd", "type": "quantitative"}, "color": {"datum": "finite diff", "type": "nominal"}, "strokeDash": {"datum": "finite diff", "type": "nominal"}}}
 ]}
],
"spacing": 74, "bounds": "flush",
"resolve": {"scale": {"color": "independent", "strokeDash": "independent"}, "legend": {"color": "independent", "strokeDash": "independent"}},
"title": {"text": "(f) k=4", "orient": "bottom", "anchor": "middle", "font": "DejaVu Serif", "fontSize": 17, "fontWeight": "normal", "color": "#000", "offset": 19, "dx": 19}
}
],
"spacing": 25,
"resolve": {"scale": {"color": "independent", "strokeDash": "independent"}, "legend": {"color": "independent", "strokeDash": "independent"}}
}
]
}
